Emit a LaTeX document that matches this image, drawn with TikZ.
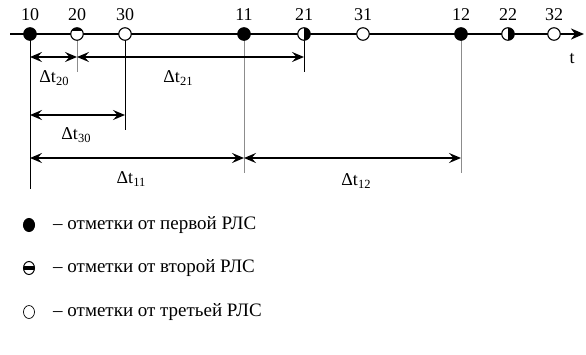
\documentclass[tikz,border=0pt]{standalone}
\usepackage{fontspec}
\setmainfont{Liberation Serif}
\usetikzlibrary{arrows.meta,shapes.geometric}
\newcommand\dtl[1]{Δt\kern0.2pt\raisebox{-0.35ex}{\fontsize{12.5}{12.5}\selectfont #1}}
\tikzset{
  mk/.style={circle,draw=black,line width=1.1pt,minimum size=12.5pt,inner sep=0pt,fill=white},
  mkone/.style={mk,fill=black},
  mktwov/.style={mk,path picture={\fill[black] (path picture bounding box.south) rectangle (path picture bounding box.north east);}},
  mkcap/.style={mk,path picture={\fill[black] ([yshift=-3.5pt]path picture bounding box.north west) rectangle (path picture bounding box.north east);}},
  legmk/.style={ellipse,draw=black,inner sep=0pt,minimum width=11pt,minimum height=13pt,fill=white},
  tick/.style={line width=0.9pt,black},
  gtick/.style={line width=1pt,black!45},
  dim/.style={line width=2.3pt,{Stealth[length=12pt,width=10pt,inset=4.5pt]}-{Stealth[length=12pt,width=10pt,inset=4.5pt]}},
  lbl/.style={font=\fontsize{18}{18}\selectfont,inner sep=0pt},
  leg/.style={font=\fontsize{19}{19}\selectfont,anchor=west,inner sep=0pt}
}
\begin{document}
\begin{tikzpicture}[x=1pt,y=-1pt]
\useasboundingbox (0,0) rectangle (586,354);
% time axis
\coordinate (a0) at (10,34);
\coordinate (a1) at (584,34);
\draw[line width=2.6pt,-{Stealth[length=13pt,width=11pt,inset=4pt]}] (a0) -- (a1);
\node[lbl] (tlab) at (572,59) {t};

% drop lines under the marks
\coordinate (d10) at (30,189);
\coordinate (d20) at (77,72);
\coordinate (d30) at (125,130);
\coordinate (d11) at (244,173);
\coordinate (d21) at (304,72);
\coordinate (d12) at (461,173);
\draw[tick] (30,34) -- (d10);
\draw[gtick] (77,34) -- (d20);
\draw[tick] (125,34) -- (d30);
\draw[gtick] (244,34) -- (d11);
\draw[tick] (304,34) -- (d21);
\draw[gtick] (461,34) -- (d12);

% marks on the axis
\node[mkone]  (p10) at (30,34) {};
\node[mkcap]  (p20) at (77,34) {};
\node[mk]     (p30) at (125,34) {};
\node[mkone]  (p11) at (244,34) {};
\node[mktwov] (p21) at (304,34) {};
\node[mk]     (p31) at (363,34) {};
\node[mkone]  (p12) at (461,34) {};
\node[mktwov] (p22) at (508,34) {};
\node[mk]     (p32) at (554,34) {};

% mark numbers
\foreach \n/\x in {10/30,20/77,30/125,11/244,21/304,31/363,12/461,22/508,32/554}
  \node[lbl] (n\n) at (\x,15) {\n};

% time intervals
\coordinate (e1a) at (30,57);  \coordinate (e1b) at (77,57);
\coordinate (e2a) at (77,57);  \coordinate (e2b) at (304,57);
\coordinate (e3a) at (30,115); \coordinate (e3b) at (125,115);
\coordinate (e4a) at (30,158); \coordinate (e4b) at (244,158);
\coordinate (e5a) at (244,158); \coordinate (e5b) at (461,158);
\draw[dim] (e1a) -- (e1b);
\draw[dim] (e2a) -- (e2b);
\draw[dim] (e3a) -- (e3b);
\draw[dim] (e4a) -- (e4b);
\draw[dim] (e5a) -- (e5b);
\node[lbl] (l20) at (54,78) {\dtl{20}};
\node[lbl] (l21) at (178,78) {\dtl{21}};
\node[lbl] (l30) at (76,135) {\dtl{30}};
\node[lbl] (l11) at (131,179) {\dtl{11}};
\node[lbl] (l12) at (356,181) {\dtl{12}};

% legend
\node[legmk,fill=black,line width=1pt] (k1) at (29,225) {};
\node[legmk,line width=1pt,
  path picture={\fill[black] ([yshift=-2pt]path picture bounding box.west) rectangle ([yshift=2pt]path picture bounding box.east);}] (k2) at (29,268) {};
\node[legmk,line width=0.7pt] (k3) at (29,312) {};
\node[leg] (t1) at (53,225) {– отметки от первой РЛС};
\node[leg] (t2) at (53,268) {– отметки от второй РЛС};
\node[leg] (t3) at (53,312) {– отметки от третьей РЛС};
\end{tikzpicture}
\end{document}
